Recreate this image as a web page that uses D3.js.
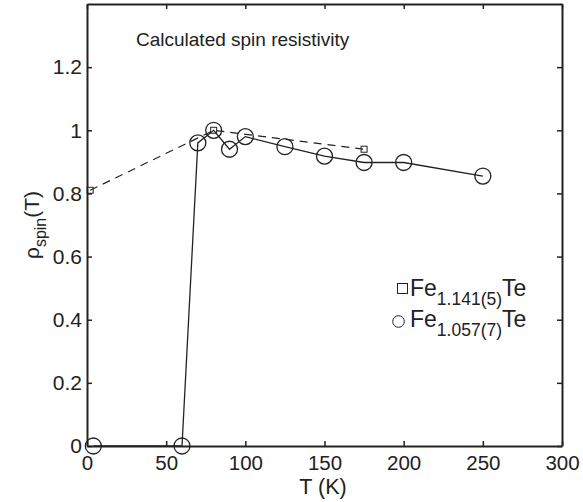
<!DOCTYPE html>
<html>
<head>
<meta charset="utf-8">
<script src="https://cdn.jsdelivr.net/npm/d3@7"></script>
<style>
  body { margin: 0; background: #fff; }
  svg text { font-family: "Liberation Sans", Arial, sans-serif; fill: #222; }
</style>
</head>
<body>
<div id="chart"></div>
<script>
// datos
const tempA = [2, 80, 175];            // Fe1.141(5)Te
const rhoA = [0.81, 1.0, 0.94];
const tempB = [4, 60, 70, 80, 90, 100, 125, 150, 175, 200, 250];   // Fe1.057(7)Te
const rhoB = [0, 0, 0.96, 1.0, 0.94, 0.98, 0.948, 0.918, 0.898, 0.898, 0.855];
const xTicks = [0, 50, 100, 150, 200, 250, 300];
const yTicks = [0, 0.2, 0.4, 0.6, 0.8, 1, 1.2];

const W = 583, H = 502;
const mLeft = 87, mRight = 562, mTop = 4, mBottom = 446;

const svg = d3.select('#chart').append('svg')
    .attr('width', W).attr('height', H);

const x = d3.scaleLinear().domain([0, 300]).range([mLeft, mRight]);
const y = d3.scaleLinear().domain([0, 1.4]).range([mBottom, mTop]);

const ink = '#222';

// ejes (estilo matlab: caja con ticks hacia dentro)
const fmt = d => d3.format('~g')(d);
svg.append('g').attr('transform', 'translate(0,' + mBottom + ')')
    .call(d3.axisBottom(x).tickValues(xTicks).tickSizeInner(-5).tickSizeOuter(0).tickPadding(9).tickFormat(fmt))
    .call(g => g.selectAll('text').attr('font-size', 20.5).attr('fill', ink));
svg.append('g').attr('transform', 'translate(0,' + mTop + ')')
    .call(d3.axisTop(x).tickValues(xTicks).tickSizeInner(-5).tickSizeOuter(0).tickFormat(''));
svg.append('g').attr('transform', 'translate(' + mLeft + ',0)')
    .call(d3.axisLeft(y).tickValues(yTicks).tickSizeInner(-5).tickSizeOuter(0).tickPadding(5).tickFormat(fmt))
    .call(g => g.selectAll('text').attr('font-size', 21).attr('fill', ink));
svg.append('g').attr('transform', 'translate(' + mRight + ',0)')
    .call(d3.axisRight(y).tickValues(yTicks).tickSizeInner(-5).tickSizeOuter(0).tickFormat(''));

svg.selectAll('.domain').attr('stroke', ink).attr('stroke-width', 2);
svg.selectAll('.tick line').attr('stroke', ink).attr('stroke-width', 1.5);

// líneas
const seriesA = tempA.map((t, i) => [t, rhoA[i]]);
const seriesB = tempB.map((t, i) => [t, rhoB[i]]);
const line = d3.line().x(d => x(d[0])).y(d => y(d[1]));

svg.append('path').datum(seriesA)
    .attr('d', line).attr('fill', 'none').attr('stroke', ink)
    .attr('stroke-width', 1.2).attr('stroke-dasharray', '8,6');
svg.append('path').datum(seriesB)
    .attr('d', line).attr('fill', 'none').attr('stroke', ink)
    .attr('stroke-width', 1.3);

svg.append('g').selectAll('circle').data(seriesB).enter().append('circle')
    .attr('cx', d => x(d[0])).attr('cy', d => y(d[1])).attr('r', 8)
    .attr('fill', 'none').attr('stroke', ink).attr('stroke-width', 1.3);
svg.append('g').selectAll('rect').data(seriesA).enter().append('rect')
    .attr('x', d => x(d[0]) - 3).attr('y', d => y(d[1]) - 3)
    .attr('width', 6).attr('height', 6)
    .attr('fill', 'none').attr('stroke', ink).attr('stroke-width', 1);

// textos
svg.append('text').attr('x', 136).attr('y', 46).attr('font-size', 19)
    .text('Calculated spin resistivity');

svg.append('text').attr('x', 323).attr('y', 494)
    .attr('text-anchor', 'middle').attr('font-size', 21.5).text('T (K)');

const yl = svg.append('text').attr('transform', 'translate(39,225) rotate(-90)')
    .attr('text-anchor', 'middle').attr('font-size', 21);
yl.append('tspan').text('ρ');
yl.append('tspan').attr('font-size', 16).attr('dy', 7).text('spin');
yl.append('tspan').attr('dy', -7).text('(T)');

// leyenda
const legend = svg.append('g');
legend.append('rect').attr('x', 397.5).attr('y', 283.5).attr('width', 10).attr('height', 10)
    .attr('fill', 'none').attr('stroke', ink).attr('stroke-width', 1);
legend.append('circle').attr('cx', 398.5).attr('cy', 321.5).attr('r', 5.8)
    .attr('fill', 'none').attr('stroke', ink).attr('stroke-width', 1);
function formula(yy, sub) {
    const t = legend.append('text').attr('x', 410).attr('y', yy).attr('font-size', 23);
    t.append('tspan').text('Fe');
    t.append('tspan').attr('font-size', 17.5).attr('dy', 9).text(sub);
    t.append('tspan').attr('dy', -9).text('Te');
}
formula(296, '1.141(5)');
formula(327, '1.057(7)');
</script>
</body>
</html>
